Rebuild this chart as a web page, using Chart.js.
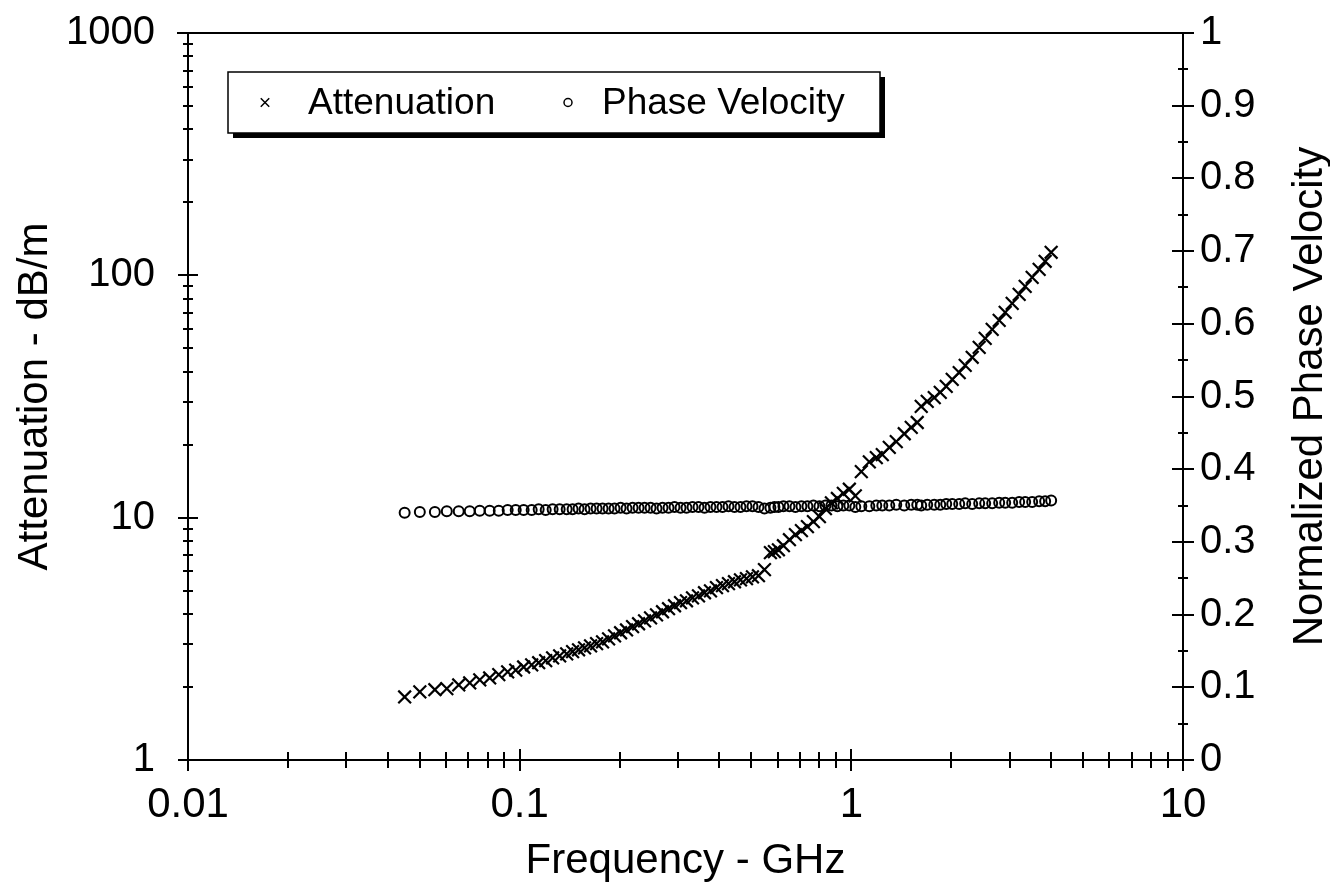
<!DOCTYPE html>
<html>
<head>
<meta charset="utf-8">
<title>Attenuation and Phase Velocity</title>
<script src="https://cdn.jsdelivr.net/npm/chart.js@4.4.1/dist/chart.umd.min.js"></script>
<style>
    html, body { margin: 0; padding: 0; background: #fff; }
    #wrap { width: 1330px; height: 893px; }
</style>
</head>
<body>
<div id="wrap"><canvas id="lineChart" width="1330" height="893"></canvas></div>
<script>
// Sweep frequencies, GHz (four sweep bands back to back)
const frequency = [
    0.0450, 0.0500, 0.0555, 0.0603, 0.0655, 0.0707, 0.0758, 0.0812, 0.0865, 0.0920,
    0.0973, 0.1028, 0.1087, 0.1141, 0.1198, 0.1257, 0.1320, 0.1386, 0.1444, 0.1505,
    0.1569, 0.1636, 0.1706, 0.1778, 0.1854, 0.1932, 0.2015, 0.2100, 0.2190, 0.2283,
    0.2380, 0.2481, 0.2586, 0.2696, 0.2811, 0.2930, 0.3055, 0.3184, 0.3320, 0.3461,
    0.3608, 0.3761, 0.3921, 0.4088, 0.4262, 0.4443, 0.4632, 0.4829, 0.5034, 0.5248,
    0.5471,
    0.5702, 0.5863, 0.6028, 0.6241, 0.6507, 0.6783, 0.7072, 0.7372, 0.7685, 0.8012,
    0.8353, 0.8708, 0.9077, 0.9461, 0.9863, 1.0280,
    1.0718, 1.1330, 1.1893, 1.2398, 1.3015, 1.3660, 1.4440, 1.5158, 1.5802,
    1.6245, 1.6936, 1.7783, 1.8540, 1.9324, 2.0146, 2.1148, 2.2047, 2.3144, 2.4295,
    2.5327, 2.6588, 2.7911, 2.9099, 3.0548, 3.2063, 3.3430, 3.5093, 3.6838, 3.8404,
    4.0036
];

// Attenuation, dB/m
const attenuation = [
    1.82, 1.91, 1.95, 1.97, 2.04, 2.08, 2.14, 2.18, 2.25, 2.31,
    2.35, 2.42, 2.47, 2.52, 2.57, 2.64, 2.69, 2.74, 2.80, 2.85,
    2.90, 2.96, 3.02, 3.07, 3.16, 3.25, 3.35, 3.44, 3.55, 3.65,
    3.75, 3.86, 3.97, 4.09, 4.21, 4.33, 4.46, 4.54, 4.67, 4.76,
    4.90, 4.99, 5.14, 5.24, 5.34, 5.44, 5.54, 5.60, 5.70, 5.76,
    6.10,
    7.17, 7.24, 7.37, 7.66, 8.11, 8.51, 8.84, 9.18, 9.63, 10.1,
    10.9, 11.5, 12.0, 12.6, 13.1, 12.3,
    15.5, 17.0, 17.7, 18.2, 19.5, 20.6, 22.2, 23.6, 24.7,
    28.8, 30.2, 31.3, 32.9, 34.8, 37.2, 39.7, 42.5, 45.9, 50.4,
    54.9, 59.8, 65.2, 70.3, 76.6, 83.5, 90.1, 98.1, 105.9, 114.3,
    124.5
];

// Phase velocity, normalized to c
const phaseVelocity = [
    0.340, 0.341, 0.341, 0.342, 0.342, 0.342, 0.343, 0.343, 0.343, 0.344,
    0.344, 0.344, 0.344, 0.345, 0.344, 0.345, 0.345, 0.345, 0.345, 0.346,
    0.345, 0.346, 0.346, 0.346, 0.346, 0.346, 0.347, 0.346, 0.347, 0.347,
    0.347, 0.347, 0.346, 0.347, 0.347, 0.348, 0.347, 0.347, 0.348, 0.348,
    0.347, 0.348, 0.348, 0.348, 0.349, 0.348, 0.348, 0.349, 0.349, 0.348,
    0.346,
    0.347, 0.348, 0.348, 0.349, 0.349, 0.348, 0.349, 0.349, 0.350, 0.349,
    0.350, 0.350, 0.349, 0.350, 0.350, 0.348,
    0.349, 0.349, 0.350, 0.350, 0.350, 0.351, 0.350, 0.351, 0.351,
    0.350, 0.351, 0.351, 0.351, 0.352, 0.352, 0.352, 0.353, 0.352, 0.353,
    0.353, 0.353, 0.354, 0.354, 0.354, 0.355, 0.355, 0.355, 0.356, 0.356,
    0.357
];

const freqTicks = [0.01, 0.1, 1, 10];
const attTicks = [1, 10, 100, 1000];
const pvTicks = [0, 0.1, 0.2, 0.3, 0.4, 0.5, 0.6, 0.7, 0.8, 0.9, 1];

const FONT = '"Liberation Sans", Arial, Helvetica, sans-serif';
Chart.defaults.font.family = FONT;
Chart.defaults.color = '#000';

function useTicks(list) {
    return function (scale) {
        scale.ticks = list.map(v => ({ value: v }));
    };
}

// fixed axis box size, labels are allowed to overhang the plot edges
function fixWidth(w) {
    return function (scale) {
        scale.width = w;
        scale.paddingTop = 0;
        scale.paddingBottom = 0;
    };
}

// tick marks straddling the axis lines, plus the top frame edge and right title
const axisMarks = {
    id: 'axisMarks',
    afterDraw(chart) {
        const { ctx, chartArea: a, scales } = chart;
        ctx.save();
        ctx.strokeStyle = '#000';
        ctx.lineWidth = 2;
        ctx.lineCap = 'butt';

        function seg(x1, y1, x2, y2) {
            ctx.beginPath();
            ctx.moveTo(x1, y1);
            ctx.lineTo(x2, y2);
            ctx.stroke();
        }

        function logValues(scale) {
            const out = [];
            const e0 = Math.floor(Math.log10(scale.min));
            const e1 = Math.ceil(Math.log10(scale.max));
            for (let e = e0; e <= e1; e++) {
                for (let k = 1; k <= 9; k++) {
                    const v = k * Math.pow(10, e);
                    if (v >= scale.min * 0.999 && v <= scale.max * 1.001) {
                        out.push({ v, major: k === 1 });
                    }
                }
            }
            return out;
        }

        seg(a.left - 11, a.top, a.right + 11, a.top);

        logValues(scales.x).forEach(t => {
            const px = Math.round(scales.x.getPixelForValue(t.v));
            const len = t.major ? 11 : 8;
            seg(px, a.bottom - len, px, a.bottom + len);
        });

        logValues(scales.y).forEach(t => {
            const py = Math.round(scales.y.getPixelForValue(t.v));
            const len = t.major ? 10 : 5;
            seg(a.left - len, py, a.left + len, py);
        });

        for (let i = 0; i <= 20; i++) {
            const py = Math.round(scales.y2.getPixelForValue(i * 0.05));
            const len = i % 2 === 0 ? 11 : 5;
            seg(a.right - len, py, a.right + len, py);
        }

        // right-hand axis title, reading bottom to top
        ctx.fillStyle = '#000';
        ctx.font = '42px ' + FONT;
        ctx.textAlign = 'center';
        ctx.textBaseline = 'middle';
        ctx.translate(1310, (a.top + a.bottom) / 2);
        ctx.rotate(-Math.PI / 2);
        ctx.fillText('Normalized Phase Velocity', 0, 0);
        ctx.restore();
    }
};

// boxed legend with drop shadow inside the plot area
const boxLegend = {
    id: 'boxLegend',
    afterDraw(chart) {
        const { ctx, chartArea: a } = chart;
        const bx = a.left + 40, by = a.top + 39, bw = 652, bh = 61;
        ctx.save();
        ctx.fillStyle = '#000';
        ctx.fillRect(bx + 5, by + 5, bw, bh);
        ctx.fillStyle = '#fff';
        ctx.fillRect(bx, by, bw, bh);
        ctx.strokeStyle = '#000';
        ctx.lineWidth = 1.5;
        ctx.strokeRect(bx, by, bw, bh);

        const cy = by + bh / 2;
        const items = [
            { ds: chart.data.datasets[0], mx: bx + 37, tx: bx + 80, r: 6 },
            { ds: chart.data.datasets[1], mx: bx + 340, tx: bx + 374, r: 4 }
        ];
        ctx.font = '37px ' + FONT;
        ctx.textBaseline = 'middle';
        ctx.textAlign = 'left';
        items.forEach(it => {
            ctx.strokeStyle = '#000';
            ctx.fillStyle = '#fff';
            Chart.helpers.drawPoint(ctx, {
                pointStyle: it.ds.pointStyle,
                radius: it.r,
                borderWidth: 1.6,
                rotation: 0
            }, it.mx, cy);
            ctx.fillStyle = '#000';
            ctx.fillText(it.ds.label, it.tx, cy + 1);
        });
        ctx.restore();
    }
};

const ctx = document.getElementById('lineChart');

new Chart(ctx.getContext('2d'), {
    type: 'scatter',
    data: {
        datasets: [{
            label: 'Attenuation',
            data: frequency.map((f, i) => ({ x: f, y: attenuation[i] })),
            yAxisID: 'y',
            pointStyle: 'crossRot',
            pointRadius: 9,
            pointBorderWidth: 2.2,
            borderColor: '#000',
            backgroundColor: '#000',
            showLine: false
        }, {
            label: 'Phase Velocity',
            data: frequency.map((f, i) => ({ x: f, y: phaseVelocity[i] })),
            yAxisID: 'y2',
            pointStyle: 'circle',
            pointRadius: 5,
            pointBorderWidth: 2,
            borderColor: '#000',
            backgroundColor: 'rgba(255,255,255,0)',
            showLine: false
        }]
    },
    options: {
        responsive: false,
        animation: false,
        devicePixelRatio: 1,
        layout: { padding: { top: 33, left: 0, right: 0, bottom: 0 } },
        plugins: {
            legend: { display: false },
            tooltip: { enabled: false }
        },
        scales: {
            x: {
                type: 'logarithmic',
                min: 0.01,
                max: 10,
                afterBuildTicks: useTicks(freqTicks),
                afterFit: s => { s.height = 133; },
                grid: { display: false, drawTicks: false },
                border: { display: true, color: '#000', width: 2 },
                ticks: {
                    autoSkip: false,
                    maxRotation: 0,
                    padding: 20,
                    font: { size: 42 },
                    callback: v => String(v)
                },
                title: {
                    display: true,
                    text: 'Frequency - GHz',
                    font: { size: 42 },
                    padding: { top: 0, bottom: 6 }
                }
            },
            y: {
                type: 'logarithmic',
                position: 'left',
                min: 1,
                max: 1000,
                afterBuildTicks: useTicks(attTicks),
                afterFit: fixWidth(188),
                grid: { display: false, drawTicks: false },
                border: { display: true, color: '#000', width: 2 },
                ticks: {
                    autoSkip: false,
                    padding: 33,
                    font: { size: 40 },
                    callback: v => String(v)
                },
                title: {
                    display: true,
                    text: 'Attenuation - dB/m',
                    font: { size: 42 },
                    padding: { top: 10, bottom: 0 }
                }
            },
            y2: {
                type: 'linear',
                position: 'right',
                min: 0,
                max: 1,
                afterBuildTicks: useTicks(pvTicks),
                afterFit: fixWidth(147),
                grid: { display: false, drawTicks: false },
                border: { display: true, color: '#000', width: 2 },
                ticks: {
                    autoSkip: false,
                    padding: 17,
                    font: { size: 40 },
                    callback: v => (v === 0 || v === 1) ? String(v) : v.toFixed(1)
                },
                title: { display: false }
            }
        }
    },
    plugins: [axisMarks, boxLegend]
});
</script>
</body>
</html>
